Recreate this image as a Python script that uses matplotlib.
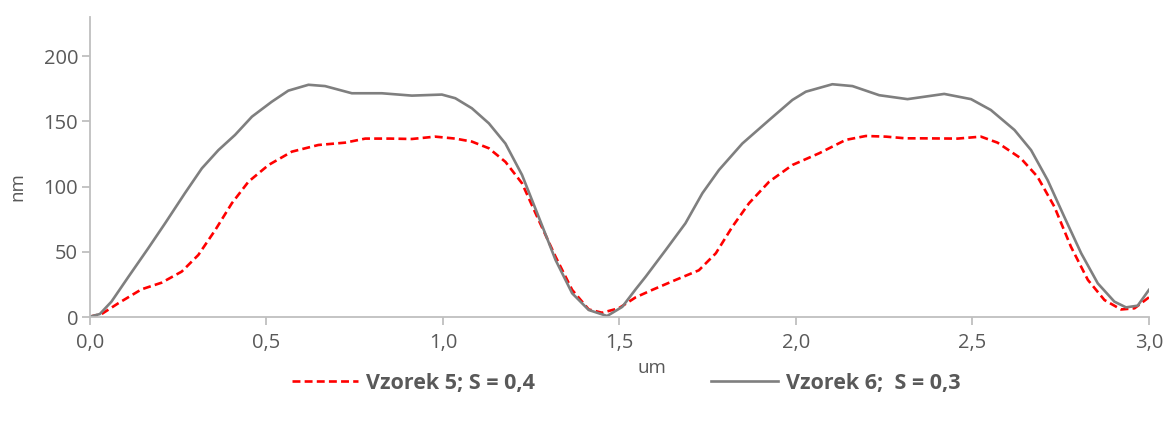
import matplotlib.pyplot as plt

# Vzorek 5; S = 0,4 (red dashed)
x5 = [0.0, 0.033, 0.08, 0.146, 0.203, 0.26, 0.307, 0.355, 0.402, 0.449, 0.506,
      0.572, 0.647, 0.723, 0.78, 0.852, 0.912, 0.978, 1.035, 1.082, 1.13, 1.177,
      1.224, 1.271, 1.319, 1.366, 1.413, 1.451, 1.498, 1.546, 1.593, 1.659,
      1.725, 1.773, 1.82, 1.867, 1.924, 1.99, 2.066, 2.141, 2.198, 2.255,
      2.311, 2.354, 2.458, 2.524, 2.571, 2.637, 2.684, 2.732, 2.779, 2.827,
      2.874, 2.921, 2.959, 3.0]
y5 = [0.5, 2.5, 10.7, 21.4, 26.5, 35, 47.7, 66.8, 87.3, 103.8, 116.6,
      126.8, 131.9, 133.7, 136.8, 136.8, 136.5, 138.3, 136.8, 134.5, 129.4, 119,
      102.6, 74.5, 46.4, 21, 6, 3.5, 6.9, 15.3, 21, 28.6,
      36, 49, 69.4, 87.3, 103.8, 116.6, 125.6, 135.8, 138.8, 138.3,
      137, 137, 136.8, 138.3, 133.7, 121.7, 107.7, 84.7, 54, 28.6,
      13.2, 6, 6.9, 15.3]

# Vzorek 6; S = 0,3 (gray solid)
x6 = [0.0, 0.028, 0.061, 0.109, 0.165, 0.213, 0.269, 0.317, 0.364, 0.411, 0.459,
      0.515, 0.562, 0.619, 0.666, 0.742, 0.827, 0.912, 0.997, 1.035, 1.082, 1.13,
      1.177, 1.224, 1.271, 1.319, 1.366, 1.413, 1.465, 1.508, 1.546, 1.574,
      1.631, 1.687, 1.735, 1.782, 1.848, 1.924, 1.99, 2.028, 2.103, 2.16,
      2.236, 2.316, 2.42, 2.496, 2.552, 2.619, 2.666, 2.713, 2.76, 2.808,
      2.855, 2.902, 2.935, 2.968, 3.0]
y6 = [0.5, 2.5, 12, 31, 52.8, 72, 95, 114, 128, 139.6, 153.6,
      165, 173.5, 178, 177, 171.5, 171.5, 169.7, 170.5, 167.7, 160, 148.5,
      133, 109, 77, 43.9, 18.4, 5.6, 1, 8, 21.5, 31,
      51.5, 72, 95, 112.8, 133, 151, 166.4, 172.7, 178.4, 177,
      170, 167, 171, 167, 158.7, 143.4, 128, 105, 77, 49,
      26, 12, 7.6, 8.9, 21]

xticks = [0.0, 0.5, 1.0, 1.5, 2.0, 2.5, 3.0]
xtick_labels = ['0,0', '0,5', '1,0', '1,5', '2,0', '2,5', '3,0']
yticks = [0, 50, 100, 150, 200]

plt.rcParams['font.family'] = ['Open Sans', 'DejaVu Sans']
txt = '#595959'
axc = '#BFBFBF'

fig = plt.figure(figsize=(11.68, 4.21), dpi=100)
ax = fig.add_axes([0.077, 0.2463, 0.9067, 0.7137])

ax.plot(x5, y5, color='#FF0000', lw=1.9, dashes=(3, 1.6),
        label='Vzorek 5; S = 0,4')
ax.plot(x6, y6, color='#7F7F7F', lw=1.9, label='Vzorek 6;  S = 0,3')

ax.set_xlim(0, 3.0)
ax.set_ylim(0, 230)
ax.set_xticks(xticks)
ax.set_xticklabels(xtick_labels)
ax.set_yticks(yticks)

for s in ['top', 'right']:
    ax.spines[s].set_visible(False)
for s in ['left', 'bottom']:
    ax.spines[s].set_color(axc)
    ax.spines[s].set_linewidth(1.3)

ax.tick_params(axis='both', colors=axc, labelcolor=txt, labelsize=14.5,
               length=5.5, width=1.3, direction='out')
ax.tick_params(axis='x', pad=6)
ax.tick_params(axis='y', pad=3)

fig.text(652 / 1168, 1 - 368 / 421, 'um', ha='center', va='center',
         color=txt, fontsize=13.5)
fig.text(17 / 1168, 1 - 187 / 421, 'nm', ha='center', va='center',
         color=txt, fontsize=13.5, rotation=90)

leg = fig.legend(loc='center', bbox_to_anchor=(626 / 1168, 1 - 383 / 421),
                 ncol=2, frameon=False, handlelength=3.1, handletextpad=0.35,
                 columnspacing=8.2, prop={'size': 15.5, 'weight': 'bold'})
for t in leg.get_texts():
    t.set_color(txt)

fig.savefig('out.png', dpi=100)
